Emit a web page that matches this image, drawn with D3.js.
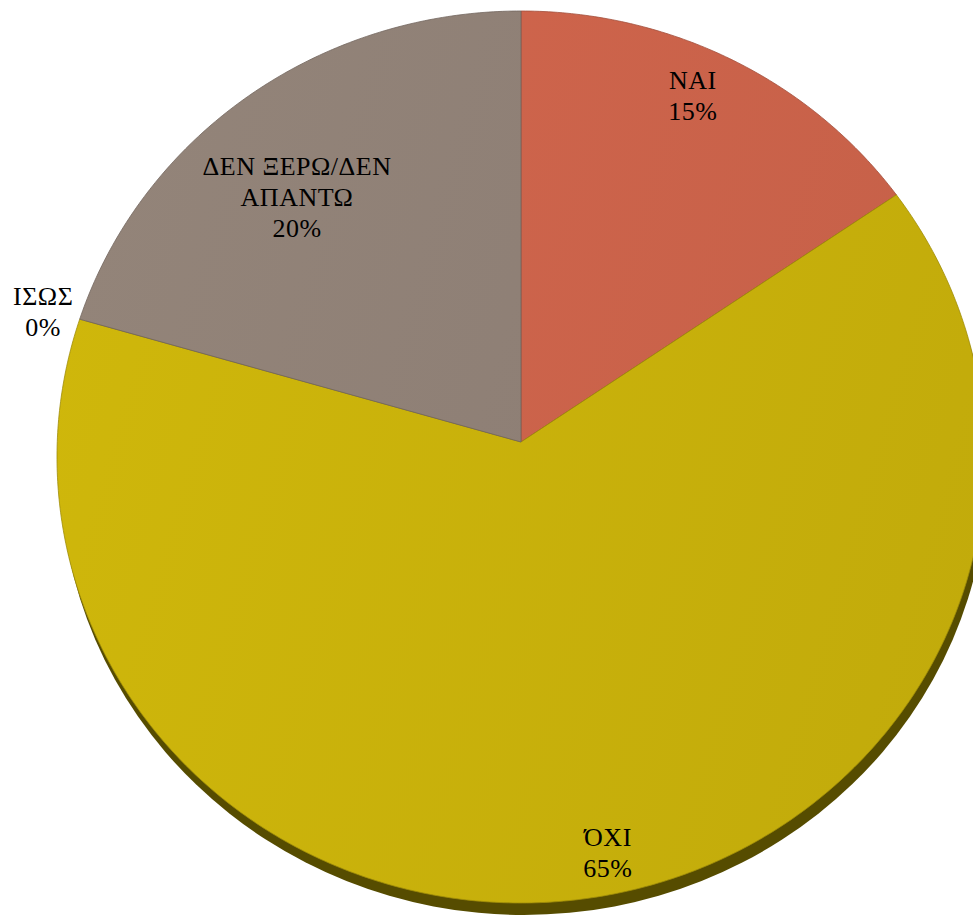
<!DOCTYPE html>
<html>
<head>
<meta charset="utf-8">
<script src="https://cdn.jsdelivr.net/npm/d3@7"></script>
<style>
  html, body { margin: 0; padding: 0; background: #fff; overflow: hidden; }
  .lbl { font-family: "Liberation Serif", "DejaVu Serif", serif; }
</style>
</head>
<body>
<div id="chart"></div>
<script>
// data
var categories = ["ΝΑΙ", "ΌΧΙ", "ΙΣΩΣ", "ΔΕΝ ΞΕΡΩ/ΔΕΝ ΑΠΑΝΤΩ"];
var values = [15, 65, 0, 20];
var colours = ["#c9624a", "#c6af0b", "#c6af0b", "#8d7e74"];

// layout
var width = 973, height = 917;
var cx = 521, cy = 457;        // ellipse centre
var rx = 464, ry = 446;        // ellipse radii
var vx = 521, vy = 442;        // apex where the slices meet (perspective)
var labelSize = 26, lineHeight = 31;
// label placement: angle nudge (deg) and fraction of radius
var labelPlace = [
    { nudge: -1.5, f: 0.86 },
    { nudge: -2.5, f: 0.94 },
    { nudge: -1, f: 1.0, outside: true },
    { nudge: -5.4, f: 0.73 }
];

var svg = d3.select("#chart").append("svg")
    .attr("width", width)
    .attr("height", height);

var defs = svg.append("defs");

function ellipsePoint(a, f) {
    if (f === undefined) f = 1;
    return [cx + Math.sin(a) * rx * f, cy - Math.cos(a) * ry * f];
}

var pie = d3.pie().sort(null).value(function(d) { return d; });
var arcs = pie(values);

// gradient per slice
arcs.forEach(function(a, i) {
    var base = d3.color(colours[i]);
    var g = defs.append("linearGradient")
        .attr("id", "grad" + i)
        .attr("gradientUnits", "userSpaceOnUse")
        .attr("x1", cx - rx).attr("y1", cy - ry * 0.3)
        .attr("x2", cx + rx).attr("y2", cy + ry * 0.3);
    g.append("stop").attr("offset", "0%").attr("stop-color", base.brighter(0.12));
    g.append("stop").attr("offset", "100%").attr("stop-color", base.darker(0.06));
});

// shadow / depth
svg.append("ellipse")
    .attr("cx", cx + 3)
    .attr("cy", cy + 12)
    .attr("rx", rx)
    .attr("ry", ry)
    .attr("fill", "#564c00");

function slicePath(a) {
    var p = d3.path();
    var s = ellipsePoint(a.startAngle);
    p.moveTo(vx, vy);
    p.lineTo(s[0], s[1]);
    var steps = Math.max(2, Math.ceil((a.endAngle - a.startAngle) / 0.01));
    for (var k = 1; k <= steps; k++) {
        var t = a.startAngle + (a.endAngle - a.startAngle) * k / steps;
        var q = ellipsePoint(t);
        p.lineTo(q[0], q[1]);
    }
    p.closePath();
    return p.toString();
}

svg.append("g").selectAll("path")
    .data(arcs.filter(function(a) { return a.value > 0; }))
    .enter().append("path")
    .attr("d", slicePath)
    .attr("fill", function(a) { return "url(#grad" + a.index + ")"; })
    .attr("stroke", function(a) { return d3.color(colours[a.index]).darker(0.6); })
    .attr("stroke-width", 0.8)
    .attr("stroke-linejoin", "round");

// labels
var labels = svg.append("g")
    .attr("class", "lbl")
    .style("font-size", labelSize + "px")
    .attr("fill", "#000");

function wrapWords(txt, maxW) {
    var words = txt.split(" ");
    var lines = [];
    var cur = "";
    var probe = labels.append("text").attr("visibility", "hidden");
    words.forEach(function(w) {
        var test = cur ? cur + " " + w : w;
        probe.text(test);
        if (cur && probe.node().getComputedTextLength() > maxW) {
            lines.push(cur);
            cur = w;
        } else {
            cur = test;
        }
    });
    if (cur) lines.push(cur);
    probe.remove();
    return lines;
}

arcs.forEach(function(a, i) {
    var place = labelPlace[i];
    var mid = (a.startAngle + a.endAngle) / 2 + place.nudge * Math.PI / 180;
    var x = vx + Math.sin(mid) * rx * place.f;
    var y = vy - Math.cos(mid) * ry * place.f;
    var lines = wrapWords(categories[i], 220);
    lines.push(a.value + "%");
    var first = y - (lines.length - 1) * lineHeight / 2 + 8.5;
    var t = labels.append("text")
        .attr("text-anchor", "middle")
        .style("letter-spacing", "0.5px");
    lines.forEach(function(l, k) {
        t.append("tspan")
            .attr("x", x)
            .attr("y", first + k * lineHeight)
            .text(l);
    });
    if (place.outside) {
        // right edge of the block sits just outside the pie
        var w = t.node().getBBox().width;
        t.selectAll("tspan").attr("x", x - w / 2 - 4);
    }
});
</script>
</body>
</html>
